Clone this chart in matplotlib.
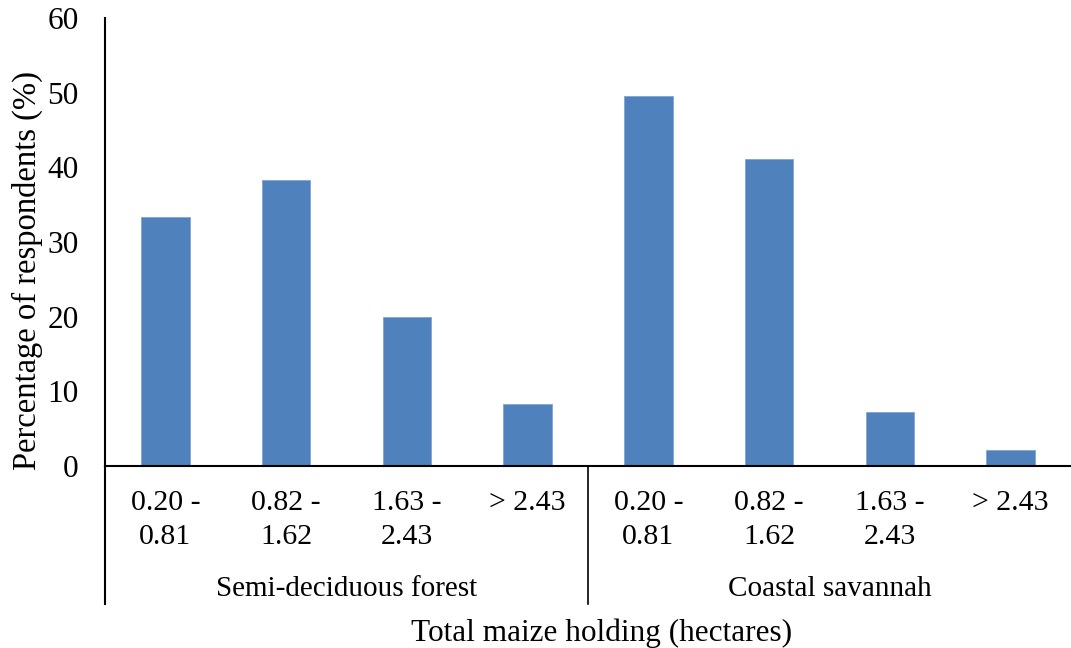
import numpy as np
import matplotlib
matplotlib.use("Agg")
import matplotlib.pyplot as plt
import matplotlib.transforms as mtrans

plt.rcParams['font.family'] = ['Liberation Serif', 'DejaVu Serif']

# data
size_classes = ['0.20 -\n0.81', '0.82 -\n1.62', '1.63 -\n2.43', '> 2.43']
zones = ['Semi-deciduous forest', 'Coastal savannah']
semi_deciduous = [33.3, 38.3, 20.0, 8.3]
coastal_savannah = [49.5, 41.1, 7.2, 2.1]
y_ticks = [0, 10, 20, 30, 40, 50, 60]

values = semi_deciduous + coastal_savannah
labels = size_classes * len(zones)
x = np.arange(len(values))

W, H = 1071, 648
fig = plt.figure(figsize=(W / 100, H / 100), dpi=100)
ax = fig.add_axes([105 / W, 182 / H, 1 - 105 / W, 448 / H])

ax.bar(x, values, width=0.4, color='#4F81BD', edgecolor='#7FA4D3', linewidth=0.6, zorder=2)

ax.set_xlim(-0.5, len(values) - 0.5)
ax.set_ylim(0, 60)
ax.set_yticks(y_ticks)
ax.tick_params(axis='y', length=0, pad=19, labelsize=22.5)
ax.set_xticks(x)
ax.set_xticklabels(labels, fontsize=21.5, linespacing=1.4)
ax.tick_params(axis='x', length=0, pad=17)

for s in ['top', 'right']:
    ax.spines[s].set_visible(False)
ax.spines['left'].set_linewidth(1.5)
ax.spines['bottom'].set_linewidth(1.5)

ax.set_ylabel('Percentage of respondents (%)', fontsize=23.5)
ax.yaxis.set_label_coords(-62 / 966, (466 - 270) / 448)

# group separators and group names below the axis
trans = mtrans.blended_transform_factory(ax.transData, ax.transAxes)
n = len(size_classes)
ybot = -(604 - 466) / 448
for g, name in enumerate(zones):
    left = g * n - 0.5
    ax.plot([left, left], [0, ybot], transform=trans, color='black',
            lw=1.5 if g == 0 else 1.2, clip_on=False)
    ax.text(g * n + (n - 1) / 2, -(589 - 466) / 448, name, transform=trans,
            ha='center', va='center', fontsize=21)

fig.text(602 / W, 1 - 633 / H, 'Total maize holding (hectares)',
         ha='center', va='center', fontsize=22.5)

fig.savefig('out.png', dpi=100)
